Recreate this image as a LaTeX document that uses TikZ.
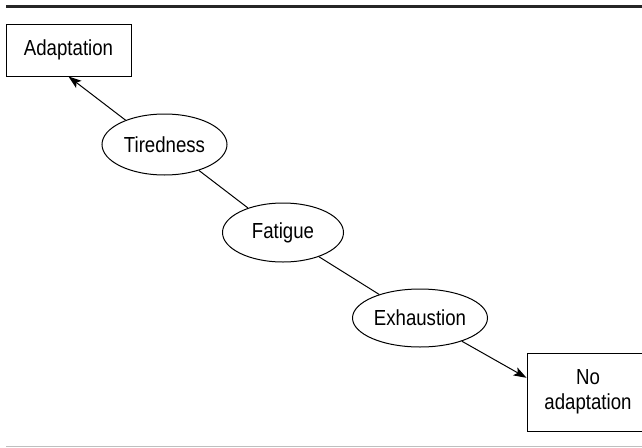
\documentclass[tikz,border=0pt]{standalone}
\usepackage{fontspec}
\setmainfont{Liberation Sans}[FakeStretch=0.855]
\usepackage{tikz}
\usetikzlibrary{shapes.geometric,arrows.meta,positioning}

\begin{document}
\begin{tikzpicture}[
    x=1pt, y=-1pt,
    stage/.style={ellipse, draw, line width=1pt, inner sep=0pt, minimum width=122pt, minimum height=59pt, font=\fontsize{21.8}{25}\selectfont},
    outcome/.style={rectangle, draw, line width=1pt, inner sep=0pt, align=center, font=\fontsize{21.8}{25}\selectfont},
    link/.style={line width=1pt},
    arrow/.style={-{Stealth[length=13pt, width=9pt, inset=3pt]}, line width=1pt}
]
\useasboundingbox (0,0) rectangle (642,447);

% Rules
\draw[line width=3pt, black!85] (6,6.5) -- (642,6.5);
\draw[line width=1pt, black!25] (6,446) -- (642,446);

% Outcomes
\node[outcome, minimum width=125pt, minimum height=52pt] (adapt) at (68.5,50) {Adaptation};
\node[outcome, minimum width=122pt, minimum height=78pt] (noadapt) at (588,392) {No\\adaptation};

% Stages
\node[stage, minimum width=125pt, minimum height=61pt] (tired) at (164.5,144.5) {Tiredness};
\node[stage, minimum width=121pt] (fatigue) at (283,232.5) {Fatigue};
\node[stage, minimum width=135pt, minimum height=58pt] (exhaust) at (420,318) {Exhaustion};

% Links
\draw[arrow] (tired.148) -- (adapt.south);
\draw[link] (tired.-37) -- (fatigue.145);
\draw[link] (fatigue.-34) -- (exhaust.150);
\draw[arrow] (exhaust.-29) -- (noadapt.167);

\end{tikzpicture}
\end{document}
